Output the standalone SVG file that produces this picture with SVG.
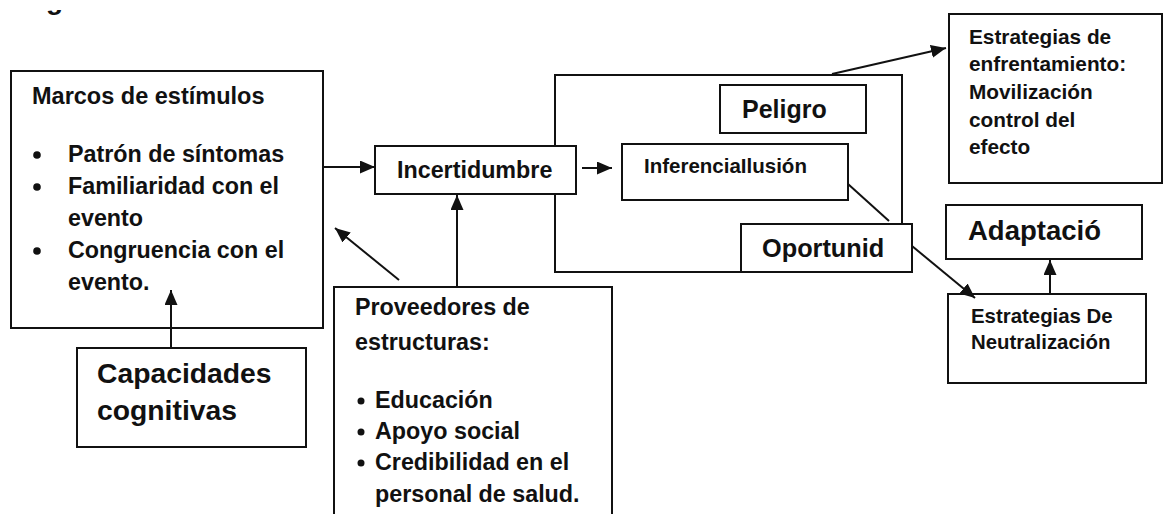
<svg xmlns="http://www.w3.org/2000/svg" width="1163" height="514" viewBox="0 0 1163 514">
<style>
  .box{fill:#fff;stroke:#111;stroke-width:2}
  .open{fill:none;stroke:#111;stroke-width:2}
  .t{font-family:"Liberation Sans",Arial,sans-serif;font-weight:bold;fill:#111}
  .c{stroke:#111;stroke-width:2;fill:none}
  .dot{fill:#111}
</style>
<defs>
  <marker id="ah" viewBox="0 0 15 13" refX="15" refY="6.5" markerWidth="15" markerHeight="13" markerUnits="userSpaceOnUse" orient="auto">
    <path d="M0,0 L15,6.5 L0,13 z" fill="#111"/>
  </marker>
  <clipPath id="cut"><rect x="0" y="10" width="200" height="10"/></clipPath>
</defs>
<rect width="1163" height="514" fill="#fff"/>
<text class="t" x="46" y="9" font-size="28" clip-path="url(#cut)">g</text>

<g id="marcos">
  <rect class="box" x="11" y="71" width="312" height="257"/>
  <text class="t" x="32" y="104" font-size="23.5">Marcos de estímulos</text>
  <circle class="dot" cx="37" cy="155" r="3.8"/>
  <circle class="dot" cx="37" cy="187" r="3.8"/>
  <circle class="dot" cx="37" cy="251" r="3.8"/>
  <text class="t" x="68" y="162" font-size="23.3">Patrón de síntomas</text>
  <text class="t" x="68" y="194" font-size="23.3">Familiaridad con el</text>
  <text class="t" x="68" y="226" font-size="23.3">evento</text>
  <text class="t" x="68" y="258" font-size="23.3">Congruencia con el</text>
  <text class="t" x="68" y="290" font-size="23.3">evento.</text>
</g>

<g id="capacidades">
  <rect class="box" x="77" y="348" width="229" height="99"/>
  <text class="t" x="97" y="383" font-size="28.3">Capacidades</text>
  <text class="t" x="97" y="420" font-size="28.3">cognitivas</text>
</g>

<g id="proveedores">
  <path class="open" d="M334,515 V287 H612 V515"/>
  <text class="t" x="355" y="315" font-size="23.3">Proveedores de</text>
  <text class="t" x="355" y="350" font-size="23.3">estructuras:</text>
  <circle class="dot" cx="361" cy="401" r="3.5"/>
  <circle class="dot" cx="361" cy="432" r="3.5"/>
  <circle class="dot" cx="361" cy="463" r="3.5"/>
  <text class="t" x="375" y="408" font-size="23.3">Educación</text>
  <text class="t" x="375" y="439" font-size="23.3">Apoyo social</text>
  <text class="t" x="375" y="470" font-size="23.3">Credibilidad en el</text>
  <text class="t" x="375" y="502" font-size="23.3">personal de salud.</text>
</g>

<g id="evaluacion">
  <rect class="open" x="555" y="75" width="347" height="197"/>
</g>

<g id="incertidumbre">
  <rect class="box" x="375" y="146" width="201" height="48"/>
  <text class="t" x="397" y="178" font-size="23.3">Incertidumbre</text>
</g>

<g id="peligro">
  <rect class="box" x="720" y="85" width="146" height="48"/>
  <text class="t" x="742" y="118" font-size="25">Peligro</text>
</g>

<g id="inferencia">
  <rect class="box" x="622" y="144" width="226" height="56"/>
  <text class="t" x="644" y="173" font-size="20.5">InferenciaIlusión</text>
</g>

<g id="oportunidad">
  <rect class="box" x="741" y="224" width="171" height="48"/>
  <text class="t" x="762" y="257" font-size="25.3">Oportunid</text>
</g>

<g id="enfrentamiento">
  <rect class="box" x="949" y="14" width="213" height="169"/>
  <text class="t" x="969" y="44" font-size="20.8">Estrategias de</text>
  <text class="t" x="969" y="71" font-size="20.8">enfrentamiento:</text>
  <text class="t" x="969" y="99" font-size="20.8">Movilización</text>
  <text class="t" x="969" y="127" font-size="20.8">control del</text>
  <text class="t" x="969" y="154" font-size="20.8">efecto</text>
</g>

<g id="adaptacion">
  <rect class="box" x="946" y="205" width="196" height="54"/>
  <text class="t" x="968" y="240" font-size="27.5">Adaptació</text>
</g>

<g id="neutralizacion">
  <rect class="box" x="948" y="294" width="198" height="89"/>
  <text class="t" x="971" y="323" font-size="20.4">Estrategias De</text>
  <text class="t" x="971" y="349" font-size="20.4">Neutralización</text>
</g>

<g id="connectors">
  <line class="c" x1="323" y1="167" x2="375" y2="167" marker-end="url(#ah)"/>
  <line class="c" x1="582" y1="168" x2="612" y2="168" marker-end="url(#ah)"/>
  <line class="c" x1="457" y1="287" x2="457" y2="195" marker-end="url(#ah)"/>
  <line class="c" x1="399" y1="280" x2="335" y2="228" marker-end="url(#ah)"/>
  <line class="c" x1="171" y1="348" x2="171" y2="290" marker-end="url(#ah)"/>
  <line class="c" x1="832" y1="74" x2="946" y2="48" marker-end="url(#ah)"/>
  <line class="c" x1="848" y1="184" x2="889" y2="221"/>
  <line class="c" x1="912" y1="246" x2="975" y2="298" marker-end="url(#ah)"/>
  <line class="c" x1="1050" y1="294" x2="1050" y2="260" marker-end="url(#ah)"/>
</g>
</svg>
